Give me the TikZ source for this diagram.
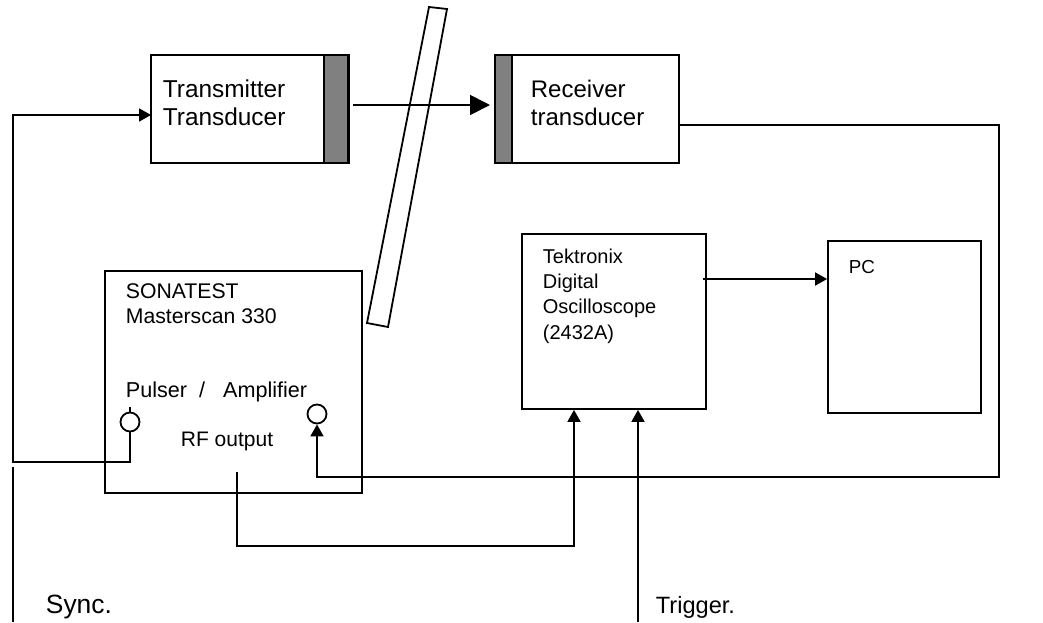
\documentclass[tikz,border=0pt]{standalone}
\usepackage{fontspec}
\setmainfont{Liberation Sans}
\usetikzlibrary{positioning}
\usetikzlibrary{calc}
\usetikzlibrary{arrows.meta}

\begin{document}
\begin{tikzpicture}[x=0.5pt, y=-0.5pt, line width=0.9pt,
    >={Triangle[length=6pt,width=6.5pt]},
    box/.style={draw, rectangle, inner sep=0pt},
    strip/.style={draw, fill=gray, rectangle, inner sep=0pt},
    jack/.style={draw, circle, inner sep=0pt, minimum size=9.5pt},
    txt/.style={anchor=base west, inner sep=0pt, align=left}]
    \useasboundingbox (0,0) rectangle (1043,622);

    % Transducers
    \node[box, minimum width=99pt, minimum height=54pt] (tx) at (250,109) {};
    \node[strip, minimum width=12pt, minimum height=54pt] (txface) at (336,109) {};
    \node[box, minimum width=92pt, minimum height=54pt] (rx) at (587,109) {};
    \node[strip, minimum width=8.5pt, minimum height=54pt] (rxface) at (503.5,109) {};
    % (multi-line labels sit on the baseline of their last line)
    \node[txt, font=\fontsize{12.2}{14}\selectfont] (txlabel) at (162,125) {Transmitter\\Transducer};
    \node[txt, font=\fontsize{12}{14}\selectfont] (rxlabel) at (530,125) {Receiver\\transducer};

    % Plate
    \draw (429,7) -- (447,9) -- (388,327) -- (367,323) -- cycle;

    % Instruments
    \node[box, minimum width=128.5pt, minimum height=111pt] (sona) at (233.5,382) {};
    \node[box, minimum width=92pt, minimum height=87.5pt] (osc) at (614,321.5) {};
    \node[box, minimum width=76.5pt, minimum height=86pt] (pc) at (904.5,327) {};
    \node[txt, font=\fontsize{10.6}{12.5}\selectfont] (sonalabel) at (125,323) {SONATEST\\Masterscan 330};
    \node[txt, font=\fontsize{10.8}{13}\selectfont] (pulamp) at (125,397) {Pulser~~/~~~Amplifier};
    \node[txt, font=\fontsize{10.5}{13}\selectfont] (rflabel) at (180,446) {RF output};
    \node[txt, font=\fontsize{10}{12.6}\selectfont] (osclabel) at (542,339) {Tektronix\\Digital\\Oscilloscope\\(2432A)};
    \node[txt, font=\fontsize{9.4}{12}\selectfont] (pclabel) at (848,273) {PC};

    % Jacks
    \node[jack] (pul) at (130,422) {};
    \node[jack] (amp) at (317,414) {};

    % Free ends
    \coordinate (txin) at (151,115);
    \coordinate (syncbend) at (13,462);
    \coordinate (synctop) at (13,467);
    \coordinate (syncbot) at (13,622);
    \coordinate (txout) at (353,105);
    \coordinate (rxin) at (490,105);
    \coordinate (rxout) at (679,125);
    \coordinate (rcorner) at (999,477);
    \coordinate (rfout) at (237,472);
    \coordinate (rfbend) at (574,546);
    \coordinate (trig) at (638,622);
    \coordinate (oscout) at (703,279);

    % Connections
    \draw[->] (pul.south) |- (syncbend) |- (txin);
    \draw (pul.north) -- ++(0,-5);
    \draw (synctop) -- (syncbot);
    \draw[-{Triangle[length=10pt,width=10pt]}] (txout) -- (rxin);
    \draw[->] (rxout) -| (rcorner) -| (amp.south);
    \draw[->] (rfout) |- (rfbend) -- (rfbend |- osc.south);
    \draw[->] (trig) -- (trig |- osc.south);
    \draw[->] (oscout) -- (oscout -| pc.west);

    % Signal labels
    \node[txt, font=\fontsize{13.2}{15}\selectfont] (sync) at (45,613) {Sync.};
    \node[txt, font=\fontsize{11.8}{14}\selectfont] (trigger) at (655,613) {Trigger.};
\end{tikzpicture}
\end{document}
